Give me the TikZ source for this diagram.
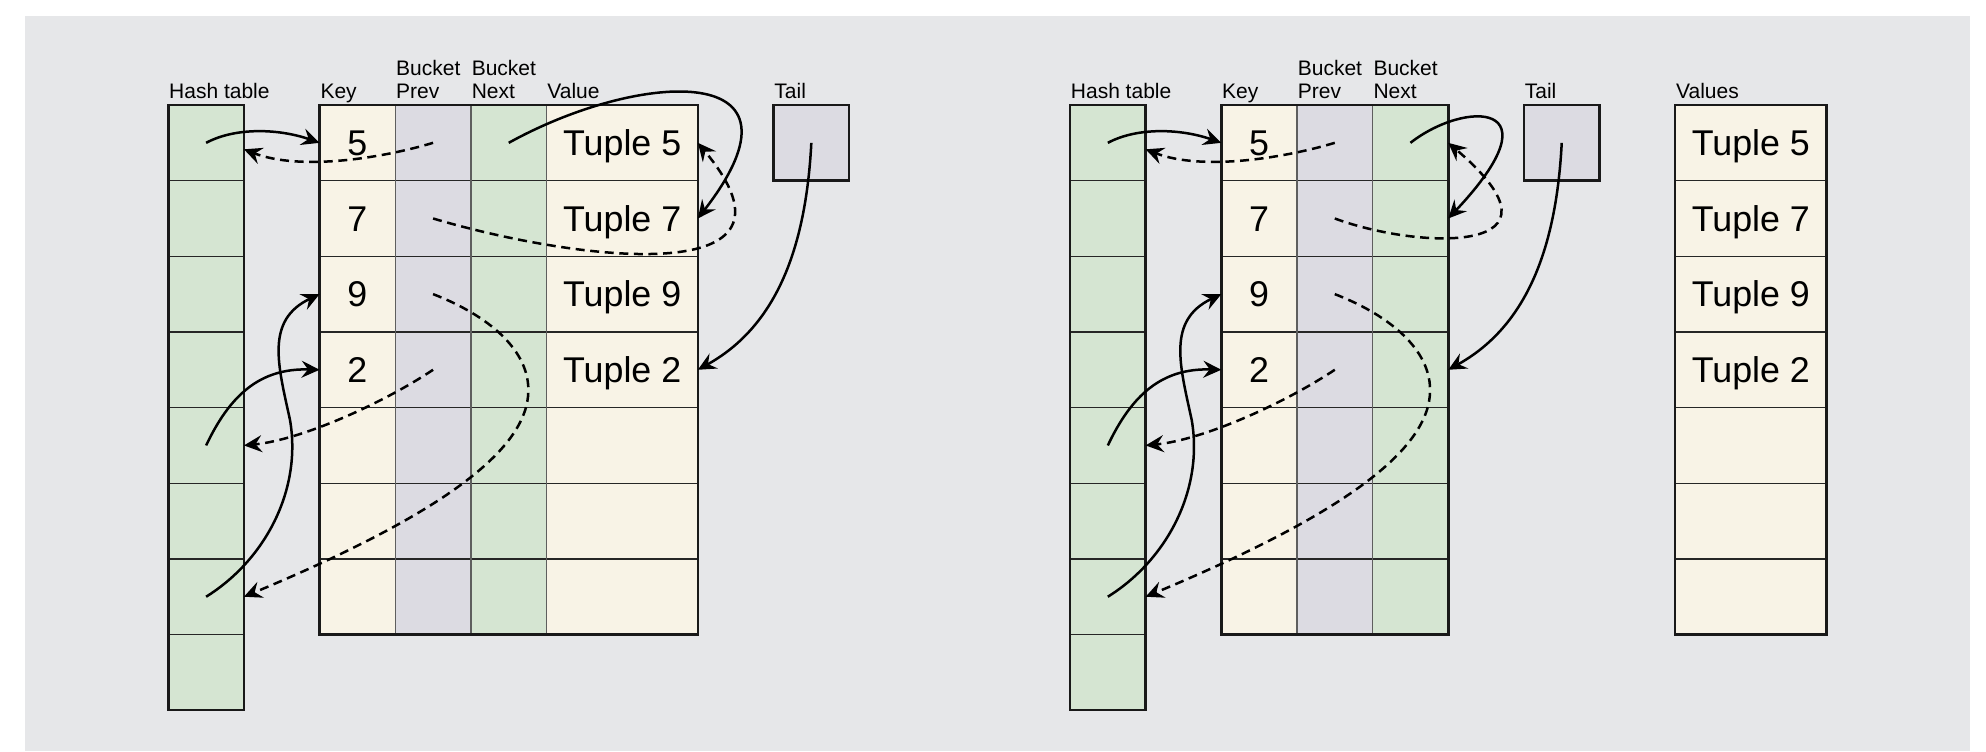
\documentclass[tikz,border=0pt]{standalone}
\usepackage{fontspec}
\setmainfont{Liberation Sans}
\usetikzlibrary{arrows.meta}
\definecolor{bgc}{HTML}{E6E7E9}
\definecolor{grn}{HTML}{D5E5D2}
\definecolor{crm}{HTML}{F8F3E6}
\definecolor{lav}{HTML}{DCDBE2}
\definecolor{sepc}{HTML}{5E5E5E}
\newcommand\cellU{37.825pt}
\newcommand\commonarrows[1]{%
 \draw[arr] (#1h0.center) .. controls +(30,-16) and +(-40,-14) .. (#1k0.west);
 \draw[darr] (#1p0.center) .. controls +(-50,15) and +(57,22) .. ([yshift=-3.25pt]#1h0.east);
 \draw[arr] (#1h6.center) .. controls +(58.9,-36.7) and +(12,70) .. ++(83.9,-176.7) .. controls +(-12,-55) and +(-54.5,26) .. (#1k2.west);
 \draw[arr] (#1h4.center) .. controls +(23.9,-50.5) and +(-59.5,-1.8) .. (#1k3.west);
 \draw[darr] (#1p3.center) .. controls +(-53,35.2) and +(56,-5.4) .. (#1h4.east);
 \draw[darr] (#1p2.center) .. controls +(47,18) and +(0,-45) .. ++(95.3,96) .. controls +(0,60) and +(196,-81.7) .. (#1h6.east);
}
\begin{document}
\begin{tikzpicture}[x=0.5pt,y=-0.5pt,
  cell/.style={rectangle,minimum width=\cellU,minimum height=\cellU,inner sep=0pt,outer sep=0pt,anchor=north west,draw=none},
  wcell/.style={cell,minimum width=2*\cellU},
  big/.style={font=\fontsize{17.9}{20}\selectfont,text height=12.8pt,text depth=0pt},
  lbl/.style={anchor=base west,inner sep=0pt,font=\fontsize{10.5}{11.25}\selectfont},
  rowline/.style={line width=0.75pt,draw=black!85},
  colline/.style={line width=0.75pt,draw=sepc},
  outer/.style={line width=1.25pt,draw=black!90},
  arr/.style={line width=1.25pt,-{Stealth[length=9pt,width=8.5pt,inset=3.2pt]}},
  darr/.style={arr,dash pattern=on 4.5pt off 2.8pt}]
\useasboundingbox (0,0) rectangle (1986,751);
\fill[bgc] (25.3,15.7) rectangle (1970,751);

% ---------------- left panel ----------------
\foreach \i in {0,...,7} \node[cell,fill=grn] (Lh\i) at (168.3,{105+\i*75.65}) {};
\foreach \i/\t in {0/5,1/7,2/9,3/2,4/{},5/{},6/{}} {
  \node[cell,big,fill=crm] (Lk\i) at (319.6,{105+\i*75.65}) {\t};
  \node[cell,fill=lav] (Lp\i) at (395.25,{105+\i*75.65}) {};
  \node[cell,fill=grn] (Ln\i) at (470.9,{105+\i*75.65}) {};
}
\foreach \i/\t in {0/Tuple 5,1/Tuple 7,2/Tuple 9,3/Tuple 2,4/{},5/{},6/{}}
  \node[wcell,big,fill=crm] (Lv\i) at (546.55,{105+\i*75.65}) {\t};
\node[cell,fill=lav,draw=black!90,line width=1.25pt] (Lt) at (773.5,105) {};

\foreach \i in {1,...,7} \draw[rowline] (Lh\i.north west) -- (Lh\i.north east);
\foreach \i in {1,...,6} \draw[rowline] (Lk\i.north west) -- (Lv\i.north east);
\draw[colline] (Lp0.north west) -- (Lp6.south west);
\draw[colline] (Ln0.north west) -- (Ln6.south west);
\draw[colline] (Lv0.north west) -- (Lv6.south west);
\draw[outer] (Lh0.north west) rectangle (Lh7.south east);
\draw[outer] (Lk0.north west) rectangle (Lv6.south east);

\node[lbl] (LlH) at (168.8,98) {Hash table};
\node[lbl] (LlK) at (320.1,98) {Key};
\node[lbl] (LlP) at (395.75,98) {\begin{tabular}[b]{@{}l@{}}Bucket\\Prev\end{tabular}};
\node[lbl] (LlN) at (471.4,98) {\begin{tabular}[b]{@{}l@{}}Bucket\\Next\end{tabular}};
\node[lbl] (LlV) at (547.05,98) {Value};
\node[lbl] (LlT) at (774,98) {Tail};

% ---------------- right panel ----------------
\foreach \i in {0,...,7} \node[cell,fill=grn] (Rh\i) at (1070,{105+\i*75.65}) {};
\foreach \i/\t in {0/5,1/7,2/9,3/2,4/{},5/{},6/{}} {
  \node[cell,big,fill=crm] (Rk\i) at (1221.3,{105+\i*75.65}) {\t};
  \node[cell,fill=lav] (Rp\i) at (1296.95,{105+\i*75.65}) {};
  \node[cell,fill=grn] (Rn\i) at (1372.6,{105+\i*75.65}) {};
}
\foreach \i/\t in {0/Tuple 5,1/Tuple 7,2/Tuple 9,3/Tuple 2,4/{},5/{},6/{}}
  \node[wcell,big,fill=crm] (Rv\i) at (1675.2,{105+\i*75.65}) {\t};
\node[cell,fill=lav,draw=black!90,line width=1.25pt] (Rt) at (1523.9,105) {};

\foreach \i in {1,...,7} \draw[rowline] (Rh\i.north west) -- (Rh\i.north east);
\foreach \i in {1,...,6} \draw[rowline] (Rk\i.north west) -- (Rn\i.north east);
\foreach \i in {1,...,6} \draw[rowline] (Rv\i.north west) -- (Rv\i.north east);
\draw[colline] (Rp0.north west) -- (Rp6.south west);
\draw[colline] (Rn0.north west) -- (Rn6.south west);
\draw[outer] (Rh0.north west) rectangle (Rh7.south east);
\draw[outer] (Rk0.north west) rectangle (Rn6.south east);
\draw[outer] (Rv0.north west) rectangle (Rv6.south east);

\node[lbl] (RlH) at (1070.5,98) {Hash table};
\node[lbl] (RlK) at (1221.8,98) {Key};
\node[lbl] (RlP) at (1297.45,98) {\begin{tabular}[b]{@{}l@{}}Bucket\\Prev\end{tabular}};
\node[lbl] (RlN) at (1373.1,98) {\begin{tabular}[b]{@{}l@{}}Bucket\\Next\end{tabular}};
\node[lbl] (RlT) at (1524.4,98) {Tail};
\node[lbl] (RlV) at (1675.7,98) {Values};

% ---------------- connectors ----------------
\commonarrows{L}
\draw[arr] (Ln0.center) .. controls +(131.5,-72.8) and +(122.5,-158.4) .. (Lv1.east);
\draw[darr] (Lp1.center) .. controls +(147,43.6) and +(122.5,147.2) .. (Lv0.east);
\draw[arr] (Lt.center) .. controls +(-6,117) and +(72,-40) .. (Lv3.east);

\commonarrows{R}
\draw[arr] (Rn0.center) .. controls +(54.6,-42.8) and +(111.75,-118.4) .. (Rn1.east);
\draw[darr] (Rp1.center) .. controls +(85.3,31.6) and +(131.75,112.2) .. (Rn0.east);
\draw[arr] (Rt.center) .. controls +(-6,117) and +(72,-40) .. (Rn3.east);
\end{tikzpicture}
\end{document}
